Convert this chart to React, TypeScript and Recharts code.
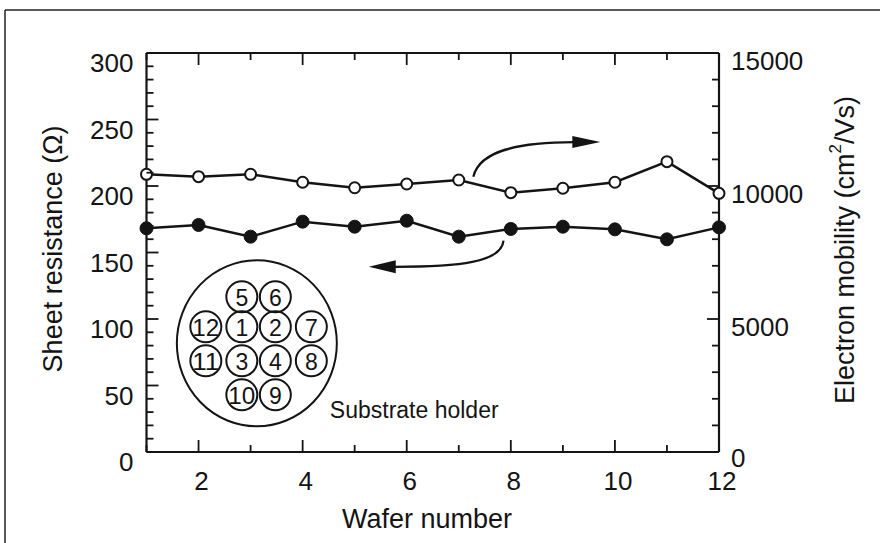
import { LineChart, Line, XAxis, YAxis } from "recharts";

// values
const wafers = [1, 2, 3, 4, 5, 6, 7, 8, 9, 10, 11, 12];
const sheetResistance = [168.2, 170.7, 161.9, 173.2, 169.4, 173.9, 161.9, 167.7, 169.4, 167.4, 159.9, 168.9];
const mobility = [10440, 10350, 10440, 10140, 9935, 10075, 10225, 9750, 9915, 10140, 10915, 9725];

const xLabels = [2, 4, 6, 8, 10, 12];
const ohmLabels = [0, 50, 100, 150, 200, 250, 300];
const mobilityLabels = [0, 5000, 10000, 15000];

// wafer numbers on the holder, row by row: [label, column]
const holderRows: [string, number][][] = [
  [["5", 1], ["6", 2]],
  [["12", 0], ["1", 1], ["2", 2], ["7", 3]],
  [["11", 0], ["3", 1], ["4", 2], ["8", 3]],
  [["10", 1], ["9", 2]],
];

const ohmTicks = Array.from({ length: 31 }, (_, i) => i * 10);
const mobilityTicks = Array.from({ length: 16 }, (_, i) => i * 1000);

const rows = wafers.map((w, i) => ({ wafer: w, ohm: sheetResistance[i], mob: mobility[i] }));

const W = 880;
const H = 543;
const PLOT = { left: 146.5, right: 719, top: 53, bottom: 452 };
const INK = "#141414";
const FONT = '"Liberation Sans", Arial, Helvetica, sans-serif';

// same mapping as the chart scales, used for the annotations only
const px = (wafer: number) => PLOT.left + ((wafer - 1) / 11) * (PLOT.right - PLOT.left);
const py = (ohm: number) => PLOT.bottom - (ohm / 300) * (PLOT.bottom - PLOT.top);

const BottomTick = ({ x, y, payload }: any) => {
  const major = payload.value % 2 === 0;
  return (
    <g>
      <line x1={x} x2={x} y1={y} y2={y - (major ? 12 : 7)} stroke={INK} strokeWidth={1.8} />
      {xLabels.includes(payload.value) && (
        <text x={x + 3} y={y + 29} textAnchor="middle" dominantBaseline="central" fontSize={26} fill={INK} fontFamily={FONT}>
          {payload.value}
        </text>
      )}
    </g>
  );
};

const TopTick = ({ x, y, payload }: any) => {
  const major = payload.value % 2 === 0;
  return <line x1={x} x2={x} y1={y} y2={y + (major ? 12 : 7)} stroke={INK} strokeWidth={1.8} />;
};

const LeftTick = ({ x, y, payload }: any) => {
  const major = payload.value % 50 === 0;
  return (
    <g>
      <line x1={x} x2={x + (major ? 12 : 7)} y1={y} y2={y} stroke={INK} strokeWidth={1.8} />
      {ohmLabels.includes(payload.value) && (
        <text x={x - 13} y={y + 10} textAnchor="end" dominantBaseline="central" fontSize={26} fill={INK} fontFamily={FONT}>
          {payload.value}
        </text>
      )}
    </g>
  );
};

const RightTick = ({ x, y, payload }: any) => {
  const major = payload.value % 5000 === 0;
  return (
    <g>
      <line x1={x} x2={x - (major ? 12 : 7)} y1={y} y2={y} stroke={INK} strokeWidth={1.8} />
      {mobilityLabels.includes(payload.value) && (
        <text x={x + 12} y={y + (payload.value === 0 ? 6 : 8)} textAnchor="start" dominantBaseline="central" fontSize={26} fill={INK} fontFamily={FONT}>
          {payload.value}
        </text>
      )}
    </g>
  );
};

const COLS = [-51, -15, 18.5, 54.5];
const ROWS = [-46.5, -16.5, 17.5, 51.5];

const Overlay = () => {
  const cx = px(3.12);
  const cy = py(81.7);
  const upStart = { x: px(7.28), y: py(207) };
  const upEnd = { x: px(9.72), y: py(233) };
  const dnStart = { x: px(7.86), y: py(159) };
  const dnEnd = { x: px(5.27), y: py(139.2) };
  return (
    <svg width={W} height={H} style={{ position: "absolute", left: 0, top: 0, pointerEvents: "none" }}>
      {/* page frame */}
      <line x1={5} y1={10} x2={W} y2={10} stroke="#222" strokeWidth={1.5} />
      <line x1={5} y1={10} x2={5} y2={H} stroke="#222" strokeWidth={1.5} />

      {/* axis titles */}
      <text x={427} y={519} textAnchor="middle" dominantBaseline="central" fontSize={27} fill={INK} fontFamily={FONT}>
        Wafer number
      </text>
      <text transform="translate(53 249) rotate(-90)" textAnchor="middle" dominantBaseline="central" fontSize={27} fill={INK} fontFamily={FONT}>
        Sheet resistance (Ω)
      </text>
      <text transform="translate(845 250) rotate(-90)" textAnchor="middle" dominantBaseline="central" fontSize={27} fill={INK} fontFamily={FONT}>
        Electron mobility (cm<tspan fontSize={17} dy={-10}>2</tspan>
        <tspan dy={10}>/Vs)</tspan>
      </text>

      {/* arrows pointing to each curve's axis */}
      <path
        d={`M${upStart.x},${upStart.y} C${upStart.x + 6},${upStart.y - 26} ${upStart.x + 45},${upEnd.y} ${upEnd.x - 26},${upEnd.y}`}
        fill="none"
        stroke={INK}
        strokeWidth={2.2}
      />
      <polygon points={`${upEnd.x - 28},${upEnd.y - 6} ${upEnd.x},${upEnd.y} ${upEnd.x - 28},${upEnd.y + 6}`} fill={INK} />
      <path
        d={`M${dnStart.x},${dnStart.y} C${dnStart.x - 2},${dnStart.y + 22} ${dnStart.x - 45},${dnEnd.y} ${dnEnd.x + 26},${dnEnd.y}`}
        fill="none"
        stroke={INK}
        strokeWidth={2.2}
      />
      <polygon points={`${dnEnd.x + 27},${dnEnd.y - 6.5} ${dnEnd.x},${dnEnd.y} ${dnEnd.x + 27},${dnEnd.y + 6.5}`} fill={INK} />

      {/* substrate holder inset */}
      <ellipse cx={cx} cy={cy} rx={80} ry={83} fill="none" stroke={INK} strokeWidth={2} />
      {holderRows.map((row, ri) =>
        row.map(([label, col]) => (
          <g key={label}>
            <circle cx={cx + COLS[col]} cy={cy + ROWS[ri]} r={15.5} fill="none" stroke={INK} strokeWidth={2} />
            <text
              x={cx + COLS[col]}
              y={cy + ROWS[ri] + 1}
              textAnchor="middle"
              dominantBaseline="central"
              fontSize={23}
              fill={INK}
              fontFamily={FONT}
              textLength={label.length > 1 ? 27 : undefined}
              lengthAdjust="spacingAndGlyphs"
            >
              {label}
            </text>
          </g>
        ))
      )}
      <text x={cx + 73} y={cy + 75} fontSize={23} fill={INK} fontFamily={FONT}>
        Substrate holder
      </text>
    </svg>
  );
};

export default function App() {
  return (
    <div style={{ position: "relative", width: W, height: H, background: "#fff" }}>
      <style>{`body{margin:0;background:#fff}`}</style>
      <LineChart
        width={W}
        height={H}
        data={rows}
        margin={{ top: PLOT.top - 20, right: W - PLOT.right - 60, bottom: H - PLOT.bottom - 30, left: PLOT.left - 60 }}
      >
        <XAxis
          xAxisId="b"
          dataKey="wafer"
          type="number"
          domain={[1, 12]}
          ticks={wafers}
          interval={0}
          height={30}
          tickSize={0}
          tickMargin={0}
          tickLine={false}
          axisLine={{ stroke: INK, strokeWidth: 2.2 }}
          tick={BottomTick}
        />
        <XAxis
          xAxisId="t"
          orientation="top"
          dataKey="wafer"
          type="number"
          domain={[1, 12]}
          ticks={wafers}
          interval={0}
          height={20}
          tickSize={0}
          tickMargin={0}
          tickLine={false}
          axisLine={{ stroke: INK, strokeWidth: 2.2 }}
          tick={TopTick}
        />
        <YAxis
          yAxisId="l"
          domain={[0, 300]}
          ticks={ohmTicks}
          interval={0}
          width={60}
          tickSize={0}
          tickMargin={0}
          tickLine={false}
          axisLine={{ stroke: INK, strokeWidth: 2.2 }}
          tick={LeftTick}
        />
        <YAxis
          yAxisId="r"
          orientation="right"
          domain={[0, 15000]}
          ticks={mobilityTicks}
          interval={0}
          width={60}
          tickSize={0}
          tickMargin={0}
          tickLine={false}
          axisLine={{ stroke: INK, strokeWidth: 2.2 }}
          tick={RightTick}
        />
        <Line
          xAxisId="b"
          yAxisId="l"
          dataKey="ohm"
          type="linear"
          stroke={INK}
          strokeWidth={2.5}
          dot={{ r: 6.5, fill: INK, stroke: INK, strokeWidth: 1 }}
          activeDot={false}
          isAnimationActive={false}
        />
        <Line
          xAxisId="b"
          yAxisId="r"
          dataKey="mob"
          type="linear"
          stroke={INK}
          strokeWidth={2.5}
          dot={{ r: 5.5, fill: "#fff", stroke: INK, strokeWidth: 2 }}
          activeDot={false}
          isAnimationActive={false}
        />
      </LineChart>
      <Overlay />
    </div>
  );
}
